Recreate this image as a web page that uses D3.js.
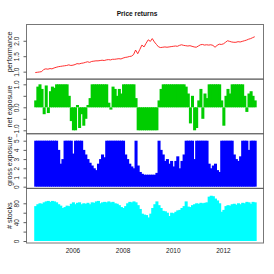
<!DOCTYPE html>
<html>
<head>
<meta charset="utf-8">
<script src="https://cdn.jsdelivr.net/npm/d3@7"></script>
<style>
  body { margin: 0; background: #fff; }
  text { font-family: "Liberation Sans", Arial, sans-serif; }
</style>
</head>
<body>
<div id="chart"></div>
<script>
// months Jul 2004 .. Apr 2013
const months = d3.timeMonth.range(new Date(2004, 6, 1), new Date(2013, 4, 1));

const performance = [
  0.97, 0.98, 0.99, 1.00, 1.07, 1.09, 1.08, 1.10, 1.09, 1.12,
  1.14, 1.16, 1.17, 1.18, 1.19, 1.20, 1.22, 1.20, 1.21, 1.23,
  1.26, 1.25, 1.27, 1.28, 1.30, 1.32, 1.30, 1.33, 1.34, 1.35,
  1.35, 1.36, 1.37, 1.36, 1.38, 1.39, 1.38, 1.40, 1.40, 1.41,
  1.42, 1.41, 1.44, 1.46, 1.47, 1.49, 1.50, 1.55, 1.70, 1.58,
  1.72, 1.86, 1.80, 1.92, 2.03, 1.98, 2.07, 1.96, 1.88, 1.80,
  1.78, 1.79, 1.80, 1.79, 1.80, 1.81, 1.82, 1.83, 1.82, 1.85,
  1.87, 1.85, 1.84, 1.83, 1.84, 1.82, 1.80, 1.79, 1.83, 1.87,
  1.88, 1.86, 1.87, 1.86, 1.87, 1.85, 1.79, 1.85, 1.89, 1.88,
  1.90, 1.95, 2.00, 1.98, 1.96, 1.95, 1.95, 1.97, 1.96, 1.98,
  2.00, 2.02, 2.05, 2.07, 2.10, 2.13
];

const netExposure = [
  0.3, 0.9, 1, 0.8, -0.3, 0.95, -0.25, 0.7, 0.9, 0.85,
  1, 1, 1, 1, 1, 1, 0.5, -0.6, -1, -1,
  0.1, -0.9, -0.3, -0.8, -0.5, 0.1, 0.4, 1, 1, 1,
  1, 1, 1, 1, 1, 0.2, -0.1, 0.9, 0.8, 0.5,
  0.8, 0.6, 1, 1, 1, 1, 1, 1, 0.4, -1,
  -1, -1, -1, -1, -1, -1, -1, -1, -1, 0.3,
  0.8, 1, 1, 1, 1, 1, 1, 1, 1, 1,
  1, 1, 0.9, 0.6, -0.7, 0.5, -1, -0.9, 0.3, 0.8,
  -0.5, 0.6, 0.4, 1, 1, 1, 1, 1, 1, 0.3,
  -0.8, 0.5, 0.8, 0.6, 1, 1, 1, 1, 1, 1,
  0.5, -0.2, 0.6, 0.7, 0.5, 0.3
];

const grossExposure = [
  5, 5, 5, 5, 5, 5, 5, 5, 5, 5,
  5, 4.0, 2.5, 3.0, 5, 5, 5, 5, 3.6, 5,
  5, 5, 5, 4.0, 3.5, 3.0, 2.6, 2.3, 2.0, 1.8,
  2.5, 3.0, 3.5, 3.2, 5, 5, 5, 5, 5, 5,
  5, 5, 5, 3.5, 3.0, 2.5, 2.2, 2.0, 5, 2.3,
  1.6, 1.4, 1.3, 1.3, 1.3, 1.3, 1.3, 1.3, 1.5, 5,
  4.0, 3.5, 2.8, 3.0, 2.5, 2.8, 2.2, 2.8, 3.3, 2.0,
  2.8, 3.5, 5, 5, 5, 5, 3.0, 5, 5, 5,
  5, 5, 5, 2.5, 2.0, 2.3, 2.5, 1.8, 1.6, 5,
  5, 5, 5, 5, 5, 3.5, 3.0, 2.8, 3.3, 5,
  5, 5, 4.0, 5, 5, 5
];

const numStocks = [
  74, 78, 80, 79, 82, 84, 85, 83, 85, 84,
  82, 78, 75, 70, 72, 75, 74, 79, 82, 78,
  81, 82, 78, 80, 79, 81, 78, 82, 81, 84,
  85, 80, 82, 83, 82, 84, 82, 83, 80, 79,
  76, 72, 70, 74, 80, 83, 82, 84, 82, 76,
  68, 58, 56, 55, 50, 58, 70, 78, 84, 76,
  70, 64, 63, 60, 53, 60, 59, 62, 65, 66,
  70, 74, 84, 73, 72, 76, 78, 80, 79, 81,
  80, 81, 82, 94, 96, 95, 90, 86, 80, 62,
  66, 74, 76, 75, 78, 79, 77, 80, 78, 81,
  80, 83, 82, 79, 83, 82
];

const xTickYears = [2006, 2008, 2010, 2012];

const W = 274, H = 274;
const plotLeft = 26.5, plotRight = 263.5, plotTop = 24.5, plotBottom = 243;
const panelH = (plotBottom - plotTop) / 4;

const svg = d3.select('#chart').append('svg')
  .attr('width', W).attr('height', H);

// x scale: data range padded by 4% as in R
const t0 = months[0], t1 = months[months.length - 1];
const pad = (t1 - t0) * 0.04;
const x = d3.scaleTime()
  .domain([new Date(+t0 - pad), new Date(+t1 + pad)])
  .range([plotLeft, plotRight]);
const barW = x(months[1]) - x(months[0]);

// panel definitions (domains fitted to the pixel positions of the ticks)
const panels = [
  { label: 'performance', domain: [0.758, 2.526], ticks: [1.0, 1.5, 2.0], labels: [1.0, 1.5, 2.0], fmt: d3.format('.1f') },
  { label: 'net exposure', domain: [-1.15, 1.226], ticks: [-1, -0.5, 0, 0.5, 1], labels: [-1, 0, 1], fmt: d3.format('.1f') },
  { label: 'gross exposure', domain: [-0.185, 5.755], ticks: [0, 1, 2, 3, 4, 5], labels: [0, 1, 2, 3, 4, 5], fmt: d3.format('d') },
  { label: '# stocks', domain: [-4.2, 111.6], ticks: [0, 20, 40, 60, 80], labels: [0, 40, 80], fmt: d3.format('d') }
];

panels.forEach((p, i) => {
  const y0 = plotTop + i * panelH;
  p.y = d3.scaleLinear().domain(p.domain).range([y0 + panelH, y0]);

  // axis
  const ax = svg.append('g')
    .attr('transform', `translate(${plotLeft},0)`)
    .call(d3.axisLeft(p.y)
      .tickValues(p.ticks)
      .tickSize(3)
      .tickSizeOuter(0)
      .tickFormat(d => p.labels.includes(d) ? p.fmt(d) : ''));
  ax.select('.domain').remove();
  ax.selectAll('line').attr('stroke', '#333').attr('stroke-width', 0.8);
  ax.selectAll('text')
    .attr('transform', 'rotate(-90)')
    .attr('x', 0)
    .attr('y', -7.4)
    .attr('dy', null)
    .attr('text-anchor', 'middle')
    .attr('fill', '#222')
    .style('font-size', '6.5px');

  // y label
  const cy = y0 + panelH / 2;
  svg.append('text')
    .attr('transform', `translate(11.6,${cy}) rotate(-90)`)
    .attr('text-anchor', 'middle')
    .attr('fill', '#222')
    .style('font-size', '7.3px')
    .text(p.label);
});

// performance line
const line = d3.line()
  .x(d => x(d[0]))
  .y(d => panels[0].y(d[1]));
svg.append('path')
  .datum(months.map((m, i) => [m, performance[i]]))
  .attr('d', line)
  .attr('fill', 'none')
  .attr('stroke', '#ff1a1a')
  .attr('stroke-width', 0.9);

// bar panels (bars overlap a little so no seams show)
function bars(values, panel, color) {
  const y = panel.y;
  svg.append('g').selectAll('rect')
    .data(values)
    .enter()
    .append('rect')
    .attr('x', (d, i) => x(months[i]) - barW / 2)
    .attr('width', barW + 0.9)
    .attr('y', d => Math.min(y(0), y(d)))
    .attr('height', d => Math.abs(y(0) - y(d)))
    .attr('fill', color);
}
bars(netExposure, panels[1], '#00cd00');
bars(grossExposure, panels[2], '#0000ff');
bars(numStocks, panels[3], '#00ffff');

// panel boxes
panels.forEach((p, i) => {
  svg.append('rect')
    .attr('x', plotLeft).attr('y', plotTop + i * panelH)
    .attr('width', plotRight - plotLeft).attr('height', panelH)
    .attr('fill', 'none')
    .attr('stroke', '#555')
    .attr('stroke-opacity', 0.8)
    .attr('stroke-width', 1);
});

// x axis labels
svg.append('g').selectAll('text')
  .data(xTickYears)
  .enter()
  .append('text')
  .attr('x', d => x(new Date(d, 0, 1)))
  .attr('y', 253)
  .attr('text-anchor', 'middle')
  .attr('fill', '#222')
  .style('font-size', '6.5px')
  .text(d => d);

// title
svg.append('text')
  .attr('x', W / 2)
  .attr('y', 16.3)
  .attr('text-anchor', 'middle')
  .attr('font-weight', 'bold')
  .attr('fill', '#111')
  .style('font-size', '6.6px')
  .text('Price returns');
</script>
</body>
</html>
